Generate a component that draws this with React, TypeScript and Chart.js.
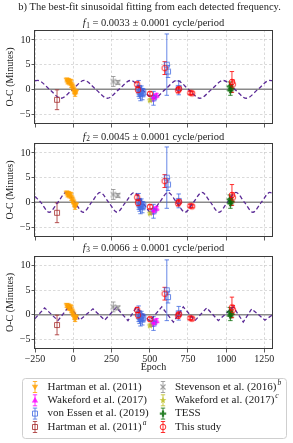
import React, { useEffect, useRef } from "react";
import { Chart, registerables } from "chart.js";

Chart.register(...registerables);

const FONT = "'Liberation Serif', 'DejaVu Serif', serif";
Chart.defaults.font.family = FONT;
Chart.defaults.color = "#222";

// ---------- axes ----------
const X_MIN = -250;
const X_MAX = 1300;
const Y_MIN = -7;
const Y_MAX = 12;
const xTickValues = [-250, 0, 250, 500, 750, 1000, 1250];
const yTickValues = [-5, 0, 5, 10];

// ---------- panel titles ----------
const frequencies = ["0.0033", "0.0045", "0.0066"];
const freqError = "0.0001";
const supTitle = "b) The best-fit sinusoidal fitting from each detected frequency.";

// ---------- observations (epoch, O-C minutes, error) ----------
const hartmanEpoch = [-42, -36, -30, -24, -18, -12, -6, 0, 6, 12, 18];
const hartmanOC = [1.9, 1.5, 1.7, 1.3, 1.6, 0.9, 0.5, 0.1, -0.4, -0.9, -0.5];
const hartmanErr = [0.4, 0.4, 0.5, 0.4, 0.4, 0.5, 0.5, 0.4, 0.5, 0.5, 0.4];

const wakefordEpoch = [518, 532, 545];
const wakefordOC = [-1.8, -1.5, -1.2];
const wakefordErr = [0.6, 0.5, 0.4];

const vonEssenEpoch = [428, 434, 440, 446, 452, 458, 525, 612, 620, 690];
const vonEssenOC = [0.2, -0.5, -0.9, -0.3, -1.0, -0.6, -1.8, 5.0, 3.6, 0.3];
const vonEssenErr = [1.6, 1.3, 1.4, 1.0, 1.1, 0.7, 1.4, 6.2, 1.2, 1.4];

const hartmanAEpoch = [-106];
const hartmanAOC = [-2.1];
const hartmanAErr = [2.0];

const stevensonEpoch = [262, 292];
const stevensonOC = [1.6, 1.4];
const stevensonErr = [1.0, 0.4];

const wakefordCEpoch = [502];
const wakefordCOC = [-2.2];
const wakefordCErr = [0.3];

const tessEpoch = [1024, 1028, 1033];
const tessOC = [0.6, -0.2, 0.2];
const tessErr = [0.9, 1.0, 0.8];

const thisEpoch = [418, 424, 502, 598, 686, 692, 766, 778, 1038, 1044];
const thisOC = [1.0, -0.1, -0.9, 4.3, -0.2, 0.1, -0.7, -0.8, 1.5, 1.0];
const thisErr = [0.5, 0.6, 0.4, 1.3, 0.5, 0.4, 0.3, 0.3, 2.1, 0.9];

// ---------- best-fit sinusoid curves ----------
const sine1Epoch = [-250, -231, -155, -80, -4, 72, 148, 223, 299, 375, 450, 526, 602, 678, 754, 829, 905, 981, 1057, 1132, 1208, 1284, 1300];
const sine1OC = [1.75, 1.8, 0, -1.8, 0, 1.8, 0, -1.8, 0, 1.8, 0, -1.8, 0, 1.8, 0, -1.8, 0, 1.8, 0, -1.8, 0, 1.8, 1.75];

const sine2Epoch = [-250, -212, -157, -101, -46, 10, 65, 120, 176, 232, 287, 342, 398, 454, 509, 564, 620, 676, 731, 786, 842, 898, 953, 1008, 1064, 1120, 1175, 1230, 1286, 1300];
const sine2OC = [1.2, 0, -2, 0, 2, 0, -2, 0, 2, 0, -2, 0, 2, 0, -2, 0, 2, 0, -2, 0, 2, 0, -2, 0, 2, 0, -2, 0, 2, 1.9];

const sine3Epoch = [-250, -187, -100, -23, 42, 129, 206, 282, 358, 413, 500, 579, 655, 720, 796, 873, 949, 1047, 1112, 1167, 1254, 1300];
const sine3OC = [-0.8, 1.4, -1.2, 1.9, -1.1, 1.2, -1.1, 1.5, -1.2, 1.5, -1.3, 1.6, -1.5, 1.6, -1.2, 1.4, -1.2, 1.6, -1.5, 1.2, -1.1, -0.1];

// ---------- series styling ----------
type Series = {
  label: string;
  sup?: string;
  color: string;
  marker: string;
  x: number[];
  y: number[];
  e: number[];
};

const SERIES: Series[] = [
  { label: "Hartman et al. (2011)", color: "#ffa000", marker: "tri_down", x: hartmanEpoch, y: hartmanOC, e: hartmanErr },
  { label: "Wakeford et al. (2017)", color: "#ff00ff", marker: "tri_up", x: wakefordEpoch, y: wakefordOC, e: wakefordErr },
  { label: "von Essen et al. (2019)", color: "#4169e1", marker: "square", x: vonEssenEpoch, y: vonEssenOC, e: vonEssenErr },
  { label: "Hartman et al. (2011)", sup: "a", color: "#a52a2a", marker: "square", x: hartmanAEpoch, y: hartmanAOC, e: hartmanAErr },
  { label: "Stevenson et al. (2016)", sup: "b", color: "#8c8c8c", marker: "x", x: stevensonEpoch, y: stevensonOC, e: stevensonErr },
  { label: "Wakeford et al. (2017)", sup: "c", color: "#bcbd22", marker: "star", x: wakefordCEpoch, y: wakefordCOC, e: wakefordCErr },
  { label: "TESS", color: "#0a6e0a", marker: "plus", x: tessEpoch, y: tessOC, e: tessErr },
  { label: "This study", color: "#ff0000", marker: "circle", x: thisEpoch, y: thisOC, e: thisErr },
];

const SINE_COLOR = "#5b2a96";

function drawMarker(ctx: CanvasRenderingContext2D, kind: string, cx: number, cy: number, color: string) {
  ctx.save();
  ctx.globalAlpha = 0.8;
  ctx.strokeStyle = color;
  ctx.fillStyle = color;
  ctx.lineWidth = 1;
  ctx.beginPath();
  if (kind === "tri_down") {
    ctx.moveTo(cx - 3.2, cy - 2.3);
    ctx.lineTo(cx + 3.2, cy - 2.3);
    ctx.lineTo(cx, cy + 3.2);
    ctx.closePath();
    ctx.fill();
  } else if (kind === "tri_up") {
    ctx.moveTo(cx - 3.2, cy + 2.3);
    ctx.lineTo(cx + 3.2, cy + 2.3);
    ctx.lineTo(cx, cy - 3.2);
    ctx.closePath();
    ctx.fill();
  } else if (kind === "square") {
    ctx.rect(cx - 2.5, cy - 2.5, 5, 5);
    ctx.stroke();
  } else if (kind === "x") {
    ctx.lineWidth = 1.2;
    ctx.moveTo(cx - 2.5, cy - 2.5);
    ctx.lineTo(cx + 2.5, cy + 2.5);
    ctx.moveTo(cx + 2.5, cy - 2.5);
    ctx.lineTo(cx - 2.5, cy + 2.5);
    ctx.stroke();
  } else if (kind === "star") {
    for (let k = 0; k < 10; k++) {
      const r = k % 2 === 0 ? 3.6 : 1.5;
      const a = -Math.PI / 2 + (k * Math.PI) / 5;
      const px = cx + r * Math.cos(a);
      const py = cy + r * Math.sin(a);
      if (k === 0) ctx.moveTo(px, py);
      else ctx.lineTo(px, py);
    }
    ctx.closePath();
    ctx.fill();
  } else if (kind === "plus") {
    const a = 3.2, b = 1.1;
    ctx.moveTo(cx - b, cy - a);
    ctx.lineTo(cx + b, cy - a);
    ctx.lineTo(cx + b, cy - b);
    ctx.lineTo(cx + a, cy - b);
    ctx.lineTo(cx + a, cy + b);
    ctx.lineTo(cx + b, cy + b);
    ctx.lineTo(cx + b, cy + a);
    ctx.lineTo(cx - b, cy + a);
    ctx.lineTo(cx - b, cy + b);
    ctx.lineTo(cx - a, cy + b);
    ctx.lineTo(cx - a, cy - b);
    ctx.lineTo(cx - b, cy - b);
    ctx.closePath();
    ctx.fill();
  } else {
    ctx.arc(cx, cy, 2.8, 0, Math.PI * 2);
    ctx.stroke();
  }
  ctx.restore();
}

function markerCanvas(kind: string, color: string): HTMLCanvasElement {
  const c = document.createElement("canvas");
  c.width = 10;
  c.height = 10;
  const ctx = c.getContext("2d")!;
  drawMarker(ctx, kind, 5, 5, color);
  return c;
}

function drawErrorGlyph(ctx: CanvasRenderingContext2D, x: number, top: number, bot: number, color: string) {
  ctx.save();
  ctx.globalAlpha = 0.8;
  ctx.strokeStyle = color;
  ctx.lineWidth = 1;
  ctx.beginPath();
  ctx.moveTo(x, top);
  ctx.lineTo(x, bot);
  ctx.moveTo(x - 2.2, top);
  ctx.lineTo(x + 2.2, top);
  ctx.moveTo(x - 2.2, bot);
  ctx.lineTo(x + 2.2, bot);
  ctx.stroke();
  ctx.restore();
}

const fmtTick = (v: number | string) => {
  const n = Number(v);
  return n < 0 ? "\u2212" + Math.abs(n) : String(n);
};

const errorBarPlugin = {
  id: "errbars",
  beforeDatasetsDraw(chart: any) {
    const { ctx, chartArea, scales } = chart;
    const xs = scales.x;
    const ys = scales.y;
    ctx.save();
    ctx.beginPath();
    ctx.rect(chartArea.left, chartArea.top, chartArea.right - chartArea.left, chartArea.bottom - chartArea.top);
    ctx.clip();
    const y0 = ys.getPixelForValue(0);
    ctx.strokeStyle = "#8a8a8a";
    ctx.lineWidth = 1.5;
    ctx.beginPath();
    ctx.moveTo(chartArea.left, y0);
    ctx.lineTo(chartArea.right, y0);
    ctx.stroke();
    chart.data.datasets.forEach((ds: any) => {
      if (!ds.errors) return;
      ds.data.forEach((p: any, j: number) => {
        const px = xs.getPixelForValue(p.x);
        const top = ys.getPixelForValue(p.y + ds.errors[j]);
        const bot = ys.getPixelForValue(p.y - ds.errors[j]);
        drawErrorGlyph(ctx, px, top, bot, ds.errColor);
      });
    });
    ctx.restore();
  },
  afterDatasetsDraw(chart: any) {
    const { ctx, chartArea } = chart;
    ctx.save();
    ctx.strokeStyle = "#3a3a3a";
    ctx.lineWidth = 1;
    ctx.strokeRect(
      Math.round(chartArea.left) - 0.5,
      Math.round(chartArea.top) + 0.5,
      Math.round(chartArea.right - chartArea.left) + 1,
      Math.round(chartArea.bottom - chartArea.top) - 1
    );
    ctx.restore();
  },
};

function drawFTitle(ctx: CanvasRenderingContext2D, cx: number, cy: number, idx: number) {
  const size = 10.5;
  const main = " = " + frequencies[idx] + " \u00b1 " + freqError + " cycle/period";
  const sub = String(idx + 1);
  ctx.save();
  ctx.fillStyle = "#222";
  ctx.textBaseline = "middle";
  ctx.textAlign = "left";
  ctx.font = `italic ${size}px ${FONT}`;
  const wF = ctx.measureText("f").width + 0.5;
  ctx.font = `${size * 0.7}px ${FONT}`;
  const wS = ctx.measureText(sub).width;
  ctx.font = `${size}px ${FONT}`;
  const wM = ctx.measureText(main).width;
  let x = cx - (wF + wS + wM) / 2;
  ctx.font = `italic ${size}px ${FONT}`;
  ctx.fillText("f", x, cy);
  x += wF;
  ctx.font = `${size * 0.7}px ${FONT}`;
  ctx.fillText(sub, x, cy + 2.5);
  x += wS;
  ctx.font = `${size}px ${FONT}`;
  ctx.fillText(main, x, cy);
  ctx.restore();
}

function titlePlugin(idx: number, titleY: number, withSup: boolean) {
  return {
    id: "panelTitle" + idx,
    afterDraw(chart: any) {
      const { ctx, chartArea } = chart;
      const cx = (chartArea.left + chartArea.right) / 2;
      if (withSup) {
        ctx.save();
        ctx.fillStyle = "#222";
        ctx.font = `10.5px ${FONT}`;
        ctx.textAlign = "center";
        ctx.textBaseline = "middle";
        ctx.fillText(supTitle, 149.5, 7.5);
        ctx.restore();
      }
      drawFTitle(ctx, cx, titleY, idx);
    },
  };
}

const legendPlugin = {
  id: "errLegend",
  afterDraw(chart: any) {
    const ctx: CanvasRenderingContext2D = chart.ctx;
    const boxL = 22.5, boxT = 137.5, boxR = 286.5, boxB = 197.5;
    ctx.save();
    ctx.fillStyle = "rgba(255,255,255,0.9)";
    ctx.strokeStyle = "#cfcfcf";
    ctx.lineWidth = 1;
    ctx.beginPath();
    const r = 3;
    ctx.moveTo(boxL + r, boxT);
    ctx.lineTo(boxR - r, boxT);
    ctx.arcTo(boxR, boxT, boxR, boxT + r, r);
    ctx.lineTo(boxR, boxB - r);
    ctx.arcTo(boxR, boxB, boxR - r, boxB, r);
    ctx.lineTo(boxL + r, boxB);
    ctx.arcTo(boxL, boxB, boxL, boxB - r, r);
    ctx.lineTo(boxL, boxT + r);
    ctx.arcTo(boxL, boxT, boxL + r, boxT, r);
    ctx.closePath();
    ctx.fill();
    ctx.stroke();

    const colMarker = [35, 163];
    const colText = [47.5, 175];
    const rowY = [146, 159.3, 172.6, 186];
    SERIES.forEach((s, i) => {
      const col = i < 4 ? 0 : 1;
      const row = i % 4;
      const mx = colMarker[col];
      const my = rowY[row];
      drawErrorGlyph(ctx, mx, my - 5.5, my + 5.5, s.color);
      drawMarker(ctx, s.marker, mx, my, s.color);
      ctx.fillStyle = "#222";
      ctx.textAlign = "left";
      ctx.textBaseline = "middle";
      ctx.font = `11px ${FONT}`;
      ctx.fillText(s.label, colText[col], my);
      if (s.sup) {
        const w = ctx.measureText(s.label).width;
        ctx.font = `italic 7.5px ${FONT}`;
        ctx.fillText(s.sup, colText[col] + w + 1, my - 4);
      }
    });
    ctx.restore();
  },
};

const gridOpts = {
  color: "rgba(170,170,170,0.55)",
  lineWidth: 0.8,
  drawTicks: true,
  tickLength: 3.5,
  tickColor: "#333",
  tickWidth: 0.8,
  tickBorderDash: [],
};

function buildConfig(
  sineX: number[],
  sineY: number[],
  smooth: boolean,
  showX: boolean,
  padTop: number,
  padBottom: number,
  xAxisH: number,
  plugins: any[]
): any {
  const datasets: any[] = SERIES.map((s, i) => ({
    label: s.label,
    data: s.x.map((x, j) => ({ x, y: s.y[j] })),
    errors: s.e,
    errColor: s.color,
    pointStyle: markerCanvas(s.marker, s.color),
    pointRadius: 3,
    showLine: false,
    order: SERIES.length - i,
  }));
  datasets.push({
    label: "fit",
    data: sineX.map((x, j) => ({ x, y: sineY[j] })),
    showLine: true,
    pointRadius: 0,
    borderColor: SINE_COLOR,
    borderWidth: 1.3,
    borderDash: [4, 2.5],
    fill: false,
    tension: 0,
    cubicInterpolationMode: smooth ? "monotone" : "default",
    order: 50,
  });
  return {
    type: "scatter",
    data: { datasets },
    plugins: [errorBarPlugin, ...plugins],
    options: {
      responsive: false,
      animation: false,
      events: [],
      layout: { padding: { top: padTop, bottom: padBottom, left: 0, right: 21 } },
      plugins: { legend: { display: false }, tooltip: { enabled: false }, title: { display: false } },
      scales: {
        x: {
          type: "linear",
          position: "bottom",
          min: X_MIN,
          max: X_MAX,
          afterBuildTicks: (s: any) => {
            s.ticks = xTickValues.map((v) => ({ value: v }));
          },
          afterFit: (s: any) => {
            s.height = xAxisH;
          },
          border: { display: false, dash: [2.5, 2] },
          grid: gridOpts,
          ticks: {
            display: showX,
            autoSkip: false,
            maxRotation: 0,
            minRotation: 0,
            padding: 1,
            font: { size: 10 },
            color: "#222",
            callback: fmtTick,
          },
          title: { display: showX, text: "Epoch", font: { size: 10 }, color: "#222", padding: 0 },
        },
        y: {
          type: "linear",
          position: "left",
          min: Y_MIN,
          max: Y_MAX,
          afterBuildTicks: (s: any) => {
            s.ticks = yTickValues.map((v) => ({ value: v }));
          },
          afterFit: (s: any) => {
            s.width = 35;
          },
          border: { display: false, dash: [2.5, 2] },
          grid: gridOpts,
          ticks: {
            autoSkip: false,
            padding: 1,
            font: { size: 10 },
            color: "#222",
            callback: fmtTick,
          },
          title: { display: true, text: "O-C (Minutes)", font: { size: 10 }, color: "#222", padding: { top: 4, bottom: 0 } },
        },
      },
    },
  };
}

export default function App() {
  const c1 = useRef<HTMLCanvasElement>(null);
  const c2 = useRef<HTMLCanvasElement>(null);
  const c3 = useRef<HTMLCanvasElement>(null);

  useEffect(() => {
    const charts: Chart[] = [];
    if (c1.current) {
      charts.push(
        new Chart(c1.current, buildConfig(sine1Epoch, sine1OC, true, false, 30, 0, 8, [titlePlugin(0, 23.5, true)]))
      );
    }
    if (c2.current) {
      charts.push(
        new Chart(c2.current, buildConfig(sine2Epoch, sine2OC, true, false, 13, 0, 8, [titlePlugin(1, 7, false)]))
      );
    }
    if (c3.current) {
      charts.push(
        new Chart(
          c3.current,
          buildConfig(sine3Epoch, sine3OC, false, true, 15, 70, 24, [titlePlugin(2, 7, false), legendPlugin])
        )
      );
    }
    return () => charts.forEach((c) => c.destroy());
  }, []);

  const cs = (top: number, h: number): React.CSSProperties => ({
    position: "absolute",
    left: 0,
    top,
    width: 293,
    height: h,
    display: "block",
  });

  return (
    <div style={{ position: "fixed", left: 0, top: 0, width: 293, height: 443, background: "#fff", overflow: "hidden" }}>
      <canvas ref={c1} width={293} height={132} style={cs(0, 132)} />
      <canvas ref={c2} width={293} height={115} style={cs(130, 115)} />
      <canvas ref={c3} width={293} height={202} style={cs(241, 202)} />
    </div>
  );
}
